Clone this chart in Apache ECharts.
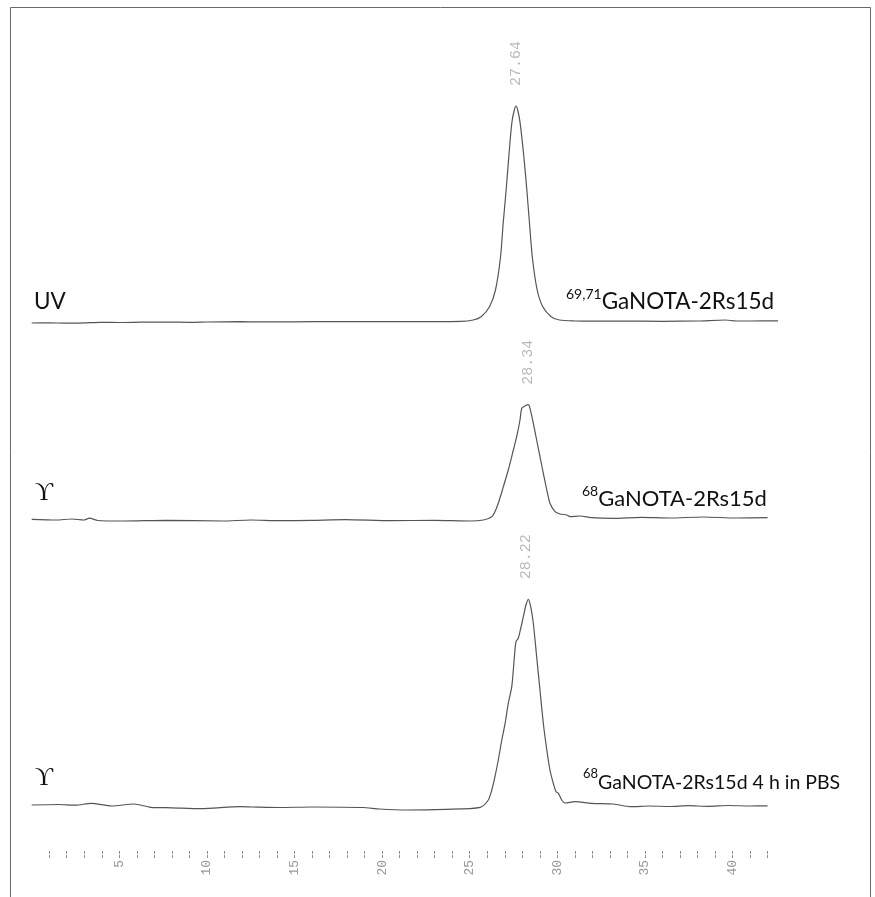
<!DOCTYPE html>
<html>
<head>
<meta charset="utf-8">
<script src="https://cdn.jsdelivr.net/npm/echarts@6/dist/echarts.min.js"></script>
<style>
  html, body { margin: 0; padding: 0; background: #ffffff; }
  #chart { width: 875px; height: 897px; }
</style>
</head>
<body>
<div id="chart"></div>
<script>
// ---- Data (time in min, signal in arbitrary units) ----
const uvTime = [0.0, 1.0, 2.0, 3.0, 3.9, 5.0, 6.3, 7.7, 9.0, 10.0, 11.9, 13.0, 15.0, 17.0, 19.0, 21.0, 23.0, 24.5,
  25.2, 25.65, 26.13, 26.47, 26.76, 26.91, 27.08, 27.23, 27.40, 27.53, 27.64, 27.75, 27.88, 28.09, 28.26, 28.41,
  28.57, 28.85, 29.17, 29.65, 30.12, 31.0, 32.0, 34.0, 36.0, 38.0, 39.6, 40.2, 41.0, 42.6];
const uvSignal = [-1.0, -0.8, -1.2, -0.9, -0.4, -0.5, -0.2, -0.1, -0.3, 0.0, 0.3, 0.1, 0.2, 0.4, 0.3, 0.5, 0.4, 0.6,
  2.0, 5.3, 15.3, 32.0, 65.3, 99.0, 132.0, 165.3, 198.7, 211.0, 216.0, 211.0, 198.7, 165.3, 132.0, 99.0,
  65.3, 32.0, 15.3, 5.3, 2.0, 1.0, 0.8, 1.0, 0.7, 1.0, 2.0, 1.0, 1.0, 1.2];

const gammaTime = [0.0, 1.4, 2.3, 2.97, 3.3, 3.77, 5.2, 7.7, 10.9, 12.5, 14.1, 16.0, 17.9, 20.5, 23.0, 25.02,
  25.78, 26.26, 26.44, 26.63, 26.92, 27.20, 27.49, 27.68, 27.87, 27.97, 28.15, 28.34, 28.44, 28.63, 28.82, 29.01,
  29.20, 29.40, 29.58, 29.87, 30.15, 30.54, 30.73, 31.30, 31.95, 33.2, 34.8, 36.4, 38.3, 40.2, 42.0];
const gammaSignal = [0.7, 0.0, 1.0, 0.0, 1.8, -0.5, -1.0, -0.3, -1.0, 0.0, -0.7, -0.3, 0.3, -0.7, -0.3, -1.0,
  0.0, 3.3, 8.3, 16.7, 33.3, 50.0, 70.0, 83.3, 100.0, 111.7, 114.0, 115.3, 111.7, 96.7, 80.0, 63.3,
  46.7, 30.0, 16.7, 8.3, 6.0, 5.0, 3.3, 4.0, 2.3, 1.7, 2.7, 2.0, 3.0, 2.0, 2.3];

const pbsTime = [0.0, 1.5, 2.5, 3.4, 4.56, 5.84, 6.79, 8.0, 9.66, 11.89, 13.0, 14.1, 16.0, 18.9, 19.85, 21.4,
  23.65, 25.6, 26.06, 26.26, 26.44, 26.63, 26.83, 27.02, 27.20, 27.40, 27.55, 27.64, 27.77, 27.91, 28.06, 28.21,
  28.34, 28.48, 28.63, 28.82, 29.01, 29.20, 29.40, 29.58, 29.77, 29.93, 30.06, 30.25, 30.44, 31.0, 31.95,
  33.2, 34.2, 35.3, 36.4, 37.5, 38.6, 39.8, 41.0, 42.0];
const pbsSignal = [1.0, 1.5, 0.8, 2.7, 0.0, 2.0, -1.3, -1.8, -2.7, -0.7, -1.2, -1.5, -1.0, -1.5, -3.0, -4.0,
  -3.3, -1.3, 6.0, 16.0, 29.3, 46.0, 66.0, 82.7, 102.7, 119.3, 149.3, 164.3, 167.7, 177.7, 189.3, 201.0,
  206.7, 199.3, 182.7, 149.3, 116.0, 82.7, 56.0, 36.0, 22.7, 14.3, 12.7, 6.0, 3.0, 4.3, 2.7,
  2.0, -0.7, 0.0, -0.5, 0.3, -0.3, 0.5, 0.0, 0.2];

const peakLabelTimes = [27.64, 28.34, 28.22];
const detectorNames = ['UV', '\u03D2', '\u03D2'];
const isotopePrefixes = ['69,71', '68', '68'];
const sampleNames = ['GaNOTA-2Rs15d', 'GaNOTA-2Rs15d', 'GaNOTA-2Rs15d 4 h in PBS'];
const minorTickValues = [1, 2, 3, 4, 5, 6, 7, 8, 9, 10, 11, 12, 13, 14, 15, 16, 17, 18, 19, 20, 21,
  22, 23, 24, 25, 26, 27, 28, 29, 30, 31, 32, 33, 34, 35, 36, 37, 38, 39, 40, 41, 42];
const tickLabelValues = [5, 10, 15, 20, 25, 30, 35, 40];

// ---- Build chart ----
const zip = (xs, ys) => xs.map((x, i) => [x, ys[i]]);
const traces = [zip(uvTime, uvSignal), zip(gammaTime, gammaSignal), zip(pbsTime, pbsSignal)];
const peakValueAt = (trace) => Math.max.apply(null, trace.map(p => p[1]));

const X_MIN = 0, X_MAX = 43;
const gridLeft = 31.7, gridWidth = 753.4;
const grids = [
  { left: gridLeft, width: gridWidth, top: 102, height: 230 },
  { left: gridLeft, width: gridWidth, top: 400, height: 130 },
  { left: gridLeft, width: gridWidth, top: 596, height: 220 },
  { left: gridLeft, width: gridWidth, top: 820, height: 31 }   // time axis strip
];
const yRanges = [[-10, 220], [-10, 120], [-10, 210], [0, 1]];

const xAxes = grids.map((g, i) => {
  const base = { type: 'value', gridIndex: i, min: X_MIN, max: X_MAX, splitLine: { show: false } };
  if (i < 3) return Object.assign(base, { show: false });
  return Object.assign(base, {
    show: true,
    position: 'bottom',
    axisLine: { show: false },
    axisTick: {
      show: true, inside: false, length: 7, customValues: minorTickValues,
      lineStyle: { color: '#8c8c8c', width: 1, type: [3, 1] }
    },
    axisLabel: {
      show: true, customValues: tickLabelValues, rotate: 90, margin: 9,
      color: '#999999', fontFamily: 'Liberation Mono', fontSize: 13
    }
  });
});
const yAxes = grids.map((g, i) => ({
  type: 'value', gridIndex: i, show: false, min: yRanges[i][0], max: yRanges[i][1], splitLine: { show: false }
}));

const series = [];
traces.forEach((tr, i) => {
  series.push({
    type: 'line', xAxisIndex: i, yAxisIndex: i, data: tr, showSymbol: false, symbol: 'none',
    smooth: 0.25, lineStyle: { color: '#555555', width: 1.2 }, silent: true, animation: false
  });
  series.push({
    type: 'scatter', xAxisIndex: i, yAxisIndex: i, symbolSize: 0, silent: true, animation: false,
    data: [[peakLabelTimes[i], peakValueAt(tr)]],
    label: {
      show: true, position: 'top', distance: 20, rotate: 90, align: 'left', verticalAlign: 'middle',
      formatter: (p) => p.value[0].toFixed(2),
      fontFamily: 'Liberation Mono', fontSize: 15, color: '#a8a8a8'
    }
  });
});

const textStyle = [
  { det: [34, 290], sample: [566, 287], supSize: 14, mainSize: 22.5 },
  { det: [35, 481], sample: [582, 484], supSize: 14, mainSize: 22 },
  { det: [35, 766], sample: [583, 767], supSize: 13, mainSize: 19.5 }
];
const graphics = [
  { type: 'rect', shape: { x: 10.5, y: 7.5, width: 860, height: 895 }, style: { fill: 'none', stroke: '#6a6a6a', lineWidth: 1 }, silent: true }
];
detectorNames.forEach((d, i) => {
  const s = textStyle[i];
  graphics.push({
    type: 'text', x: s.det[0], y: s.det[1], silent: true,
    style: { text: d, fill: '#111', font: i === 0 ? '22.5px Lato' : '25px "Liberation Serif"' }
  });
  graphics.push({
    type: 'text', x: s.sample[0], y: s.sample[1], silent: true,
    style: {
      text: '{sup|' + isotopePrefixes[i] + '}{m|' + sampleNames[i] + '}',
      rich: {
        sup: { fontSize: s.supSize, fontFamily: 'Lato', fill: '#111', verticalAlign: 'top', lineHeight: 26 },
        m: { fontSize: s.mainSize, fontFamily: 'Lato', fill: '#111', verticalAlign: 'bottom', lineHeight: 26 }
      }
    }
  });
});

const chart = echarts.init(document.getElementById('chart'), null, { renderer: 'canvas' });
chart.setOption({
  backgroundColor: '#ffffff',
  animation: false,
  grid: grids,
  xAxis: xAxes,
  yAxis: yAxes,
  series: series,
  graphic: graphics
});
</script>
</body>
</html>
